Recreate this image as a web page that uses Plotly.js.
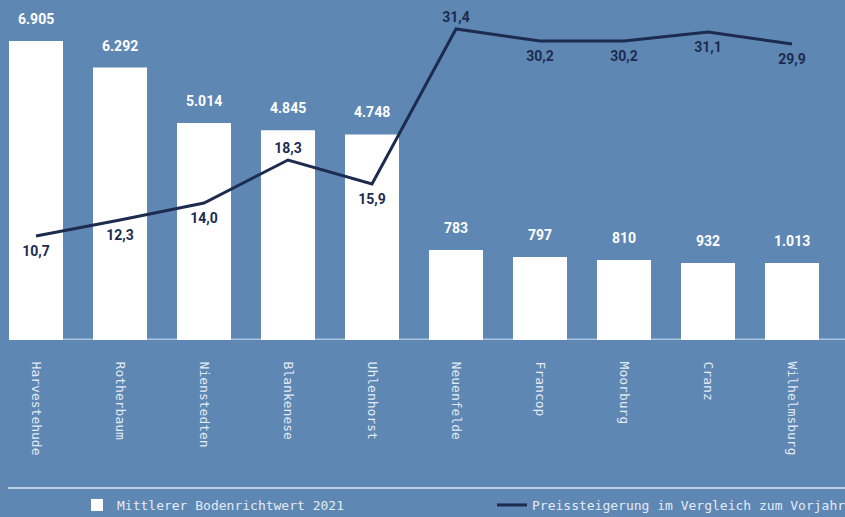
<!DOCTYPE html>
<html>
<head>
<meta charset="utf-8">
<script src="https://cdn.plot.ly/plotly-3.0.1.min.js"></script>
<style>
  html, body { margin: 0; padding: 0; background: #5e87b4; }
  #chart { width: 845px; height: 517px; }
</style>
</head>
<body>
<div id="chart"></div>
<script>
// Stadtteile (Kategorien)
const stadtteile = ["Harvestehude", "Rotherbaum", "Nienstedten", "Blankenese", "Uhlenhorst",
                    "Neuenfelde", "Francop", "Moorburg", "Cranz", "Wilhelmsburg"];
// Mittlerer Bodenrichtwert 2021 (€/m², Beschriftung der Säulen)
const bodenrichtwert = [6905, 6292, 5014, 4845, 4748, 783, 797, 810, 932, 1013];
// Säulenhöhe wie im Original gezeichnet (rechte Gruppe nicht maßstabsgetreu)
const saeulenhoehe = [6905, 6292, 5014, 4845, 4748, 2080, 1915, 1850, 1780, 1780];
// Preissteigerung im Vergleich zum Vorjahr (%)
const preissteigerung = [10.7, 12.3, 14.0, 18.3, 15.9, 31.4, 30.2, 30.2, 31.1, 29.9];
// Lage der Prozent-Beschriftung (über / unter dem Punkt)
const labelLage = ["bottom center", "bottom center", "bottom center", "top center", "bottom center",
                   "top center", "bottom center", "bottom center", "bottom center", "bottom center"];

const bg = "#5e87b4";
const navy = "#1d2b4f";
const light = "#e4ebf4";

const fmtInt = v => v.toLocaleString("de-DE");
const fmtPct = v => v.toFixed(1).replace(".", ",");

const bars = {
  type: "bar",
  name: "Mittlerer Bodenrichtwert 2021",
  x: stadtteile,
  y: saeulenhoehe,
  marker: { color: "#ffffff", line: { width: 0 } },
  hoverinfo: "skip",
  yaxis: "y"
};

const line = {
  type: "scatter",
  mode: "lines+markers+text",
  name: "Preissteigerung im Vergleich zum Vorjahr",
  x: stadtteile,
  y: preissteigerung,
  yaxis: "y2",
  line: { color: navy, width: 3 },
  marker: {
    size: labelLage.map(p => p.startsWith("top") ? 4 : 13),
    color: "rgba(0,0,0,0)", line: { width: 0 }
  },
  text: preissteigerung.map(fmtPct),
  textposition: labelLage,
  textfont: { family: "Roboto, 'DejaVu Sans', sans-serif", size: 14, color: navy, weight: 700 },
  cliponaxis: false,
  hoverinfo: "skip"
};

const annotations = stadtteile.map((s, i) => ({
  x: s, y: saeulenhoehe[i], xref: "x", yref: "y",
  text: "<b>" + fmtInt(bodenrichtwert[i]) + "</b>",
  showarrow: false, yanchor: "bottom", yshift: 12,
  font: { family: "Roboto, 'DejaVu Sans', sans-serif", size: 14, color: "#ffffff" }
}));

const layout = {
  width: 845, height: 517,
  paper_bgcolor: bg, plot_bgcolor: bg,
  margin: { l: 0, r: 0, t: 0, b: 177 },
  showlegend: true,
  bargap: 0.357,
  xaxis: {
    type: "category",
    range: [-0.4286, 9.631],
    tickangle: 90,
    ticks: "outside", ticklen: 18, tickcolor: "rgba(0,0,0,0)",
    tickfont: { family: "'DejaVu Sans Mono', monospace", size: 13, color: light },
    showgrid: false, zeroline: false, showline: false, fixedrange: true
  },
  yaxis: {
    range: [0, 7852],
    visible: false, showgrid: false, zeroline: false, fixedrange: true
  },
  yaxis2: {
    range: [0.3, 34.3],
    overlaying: "y", side: "right",
    visible: false, showgrid: false, zeroline: false, fixedrange: true
  },
  legend: {
    orientation: "h",
    xref: "container", yref: "container",
    x: 77 / 845, y: 1 - 490 / 517,
    xanchor: "left", yanchor: "top",
    entrywidth: 370, entrywidthmode: "pixels",
    font: { family: "'DejaVu Sans Mono', monospace", size: 13, color: light },
    bgcolor: "rgba(0,0,0,0)", borderwidth: 0,
    traceorder: "normal"
  },
  shapes: [
    { type: "line", xref: "paper", yref: "paper", x0: 9 / 845, x1: 1, y0: 0.002, y1: 0.002,
      line: { color: "#a9c2de", width: 1.5 }, layer: "below" },
    { type: "line", xref: "paper", yref: "paper", x0: 8 / 845, x1: 1,
      y0: (340 - 488) / 340, y1: (340 - 488) / 340,
      line: { color: "#dbe5f0", width: 1.5 } }
  ],
  annotations: annotations
};

Plotly.newPlot("chart", [bars, line], layout, { displayModeBar: false, staticPlot: true });
</script>
</body>
</html>
